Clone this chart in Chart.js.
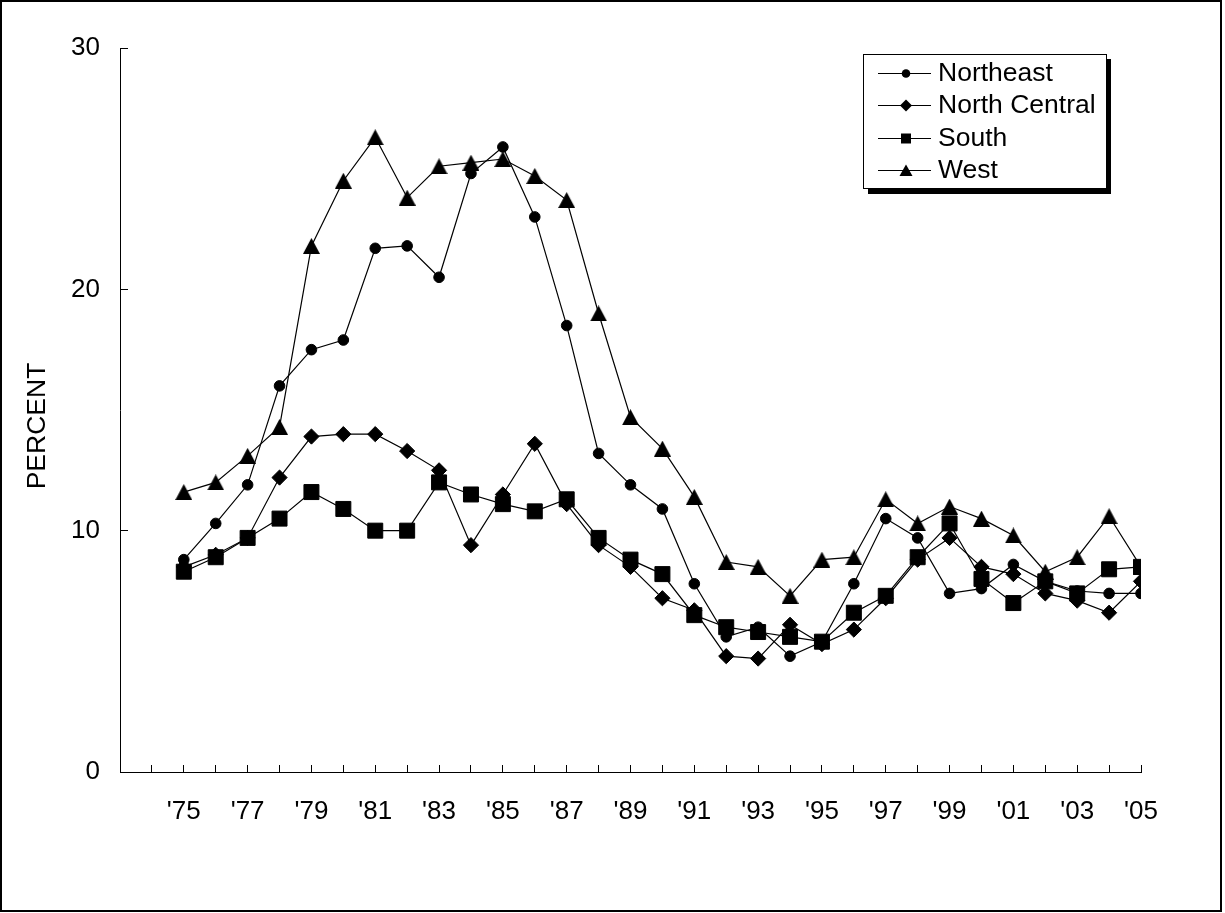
<!DOCTYPE html>
<html>
<head>
<meta charset="utf-8">
<script src="https://cdn.jsdelivr.net/npm/chart.js@4.4.1/dist/chart.umd.min.js"></script>
<style>
html,body{margin:0;padding:0;background:#fff;}
#wrap{width:1225px;height:913px;position:relative;}
canvas{display:block;}
</style>
</head>
<body>
<div id="wrap"><canvas id="c" width="1225" height="913"></canvas></div>
<script>
// ---- data ----
const years = [1975,1976,1977,1978,1979,1980,1981,1982,1983,1984,1985,1986,1987,1988,1989,1990,
               1991,1992,1993,1994,1995,1996,1997,1998,1999,2000,2001,2002,2003,2004,2005];
const northeast    = [8.8,10.3,11.9,16.0,17.5,17.9,21.7,21.8,20.5,24.8,25.9,23.0,18.5,13.2,11.9,10.9,
                      7.8,5.6,6.0,4.8,5.4,7.8,10.5,9.7,7.4,7.6,8.6,7.9,7.5,7.4,7.4];
const northCentral = [8.5,9.0,9.7,12.2,13.9,14.0,14.0,13.3,12.5,9.4,11.5,13.6,11.1,9.4,8.5,7.2,
                      6.7,4.8,4.7,6.1,5.3,5.9,7.2,8.8,9.7,8.5,8.2,7.4,7.1,6.6,7.9];
const south        = [8.3,8.9,9.7,10.5,11.6,10.9,10.0,10.0,12.0,11.5,11.1,10.8,11.3,9.7,8.8,8.2,
                      6.5,6.0,5.8,5.6,5.4,6.6,7.3,8.9,10.3,8.0,7.0,7.9,7.4,8.4,8.5];
const west         = [11.6,12.0,13.1,14.3,21.8,24.5,26.3,23.8,25.1,25.25,25.4,24.7,23.7,19.0,14.7,13.4,
                      11.4,8.7,8.5,7.3,8.8,8.9,11.3,10.3,11.0,10.5,9.8,8.3,8.9,10.6,8.5];
const seriesNames = ['Northeast','North Central','South','West'];
const xLabelYears = [1975,1977,1979,1981,1983,1985,1987,1989,1991,1993,1995,1997,1999,2001,2003,2005];
const yTickValues = [0,10,20,30];
const yTitle = 'PERCENT';

const FONT = '"Liberation Sans", Arial, sans-serif';

// triangle marker as a small canvas (Excel-like, width ~ height)
function makeTriangle(w, h) {
  const c = document.createElement('canvas');
  c.width = w; c.height = h;
  const g = c.getContext('2d');
  g.fillStyle = '#000';
  g.beginPath();
  g.moveTo(w / 2, 0);
  g.lineTo(w, h);
  g.lineTo(0, h);
  g.closePath();
  g.fill();
  return c;
}
const triMarker = makeTriangle(17, 16);

function pts(vals) { return vals.map((v, i) => ({x: years[i], y: v})); }

function ds(label, vals, style, radius, order) {
  return {
    label: label,
    data: pts(vals),
    borderColor: '#000',
    borderWidth: 1.2,
    backgroundColor: '#000',
    pointStyle: style,
    pointRadius: radius,
    pointBackgroundColor: '#000',
    pointBorderColor: '#000',
    pointBorderWidth: 1,
    tension: 0,
    fill: false,
    order: order
  };
}

const outerBorder = {
  id: 'outerBorder',
  afterDraw(chart) {
    const ctx = chart.ctx;
    ctx.save();
    ctx.strokeStyle = '#000';
    ctx.lineWidth = 2;
    ctx.strokeRect(1, 1, 1220, 910);
    // y title
    ctx.translate(38, 426);
    ctx.rotate(-Math.PI / 2);
    ctx.fillStyle = '#000';
    ctx.font = '26.5px ' + FONT;
    ctx.textAlign = 'center';
    ctx.textBaseline = 'middle';
    ctx.fillText(yTitle, 0, 0);
    ctx.restore();
  }
};

const boxLegend = {
  id: 'boxLegend',
  afterDraw(chart) {
    const ctx = chart.ctx;
    ctx.save();
    ctx.fillStyle = '#000';
    ctx.fillRect(868, 59, 243, 135);
    ctx.fillStyle = '#fff';
    ctx.fillRect(863, 54, 243, 134);
    ctx.strokeStyle = '#000';
    ctx.lineWidth = 1;
    ctx.strokeRect(863.5, 54.5, 243, 134);
    const rowsY = [73, 105, 138, 170];
    const styles = ['circle', 'diamond', 'square', 'triangle'];
    ctx.font = '26.5px ' + FONT;
    ctx.textBaseline = 'middle';
    ctx.textAlign = 'left';
    for (let i = 0; i < seriesNames.length; i++) {
      const y = rowsY[i];
      ctx.strokeStyle = '#000';
      ctx.lineWidth = 1;
      ctx.beginPath();
      ctx.moveTo(878, y + 0.5);
      ctx.lineTo(931, y + 0.5);
      ctx.stroke();
      const mx = 906;
      ctx.fillStyle = '#000';
      ctx.beginPath();
      if (styles[i] === 'circle') {
        ctx.arc(mx, y + 0.5, 4.3, 0, Math.PI * 2);
      } else if (styles[i] === 'diamond') {
        ctx.moveTo(mx, y - 5.5); ctx.lineTo(mx + 6, y + 0.5); ctx.lineTo(mx, y + 6.5); ctx.lineTo(mx - 6, y + 0.5);
      } else if (styles[i] === 'square') {
        ctx.rect(mx - 5, y - 4.5, 10, 10);
      } else {
        ctx.moveTo(mx, y - 5.5); ctx.lineTo(mx + 6.5, y + 6); ctx.lineTo(mx - 6.5, y + 6);
      }
      ctx.closePath();
      ctx.fill();
      ctx.fillStyle = '#000';
      ctx.fillText(seriesNames[i], 938, y + 1);
    }
    ctx.restore();
  }
};

new Chart(document.getElementById('c'), {
  type: 'line',
  data: {
    datasets: [
      ds(seriesNames[0], northeast, 'circle', 5.3, 2),
      ds(seriesNames[1], northCentral, 'rectRot', 7.6, 1),
      ds(seriesNames[2], south, 'rect', 10.6, 0),
      ds(seriesNames[3], west, triMarker, 9, 3)
    ]
  },
  options: {
    responsive: false,
    animation: false,
    devicePixelRatio: 1,
    events: [],
    layout: { padding: { left: 0, top: 48, right: 84, bottom: 0 } },
    plugins: { legend: { display: false }, tooltip: { enabled: false } },
    scales: {
      x: {
        type: 'linear',
        min: 1973,
        max: 2005,
        afterFit(scale) { scale.height = 141; },
        border: { display: true, color: '#000', width: 1 },
        grid: { drawOnChartArea: false, drawTicks: true, tickLength: -7, color: '#000', lineWidth: 1 },
        ticks: {
          stepSize: 1,
          autoSkip: false,
          maxTicksLimit: 100,
          maxRotation: 0,
          minRotation: 0,
          padding: 31,
          color: '#000',
          font: { family: FONT, size: 26 },
          callback: (v) => xLabelYears.includes(v) ? "'" + String(v).slice(2) : ''
        }
      },
      y: {
        min: yTickValues[0],
        max: yTickValues[yTickValues.length - 1],
        afterFit(scale) { scale.width = 120; },
        afterBuildTicks(scale) { scale.ticks = yTickValues.map(v => ({value: v})); },
        border: { display: true, color: '#000', width: 1 },
        grid: { drawOnChartArea: false, drawTicks: true, tickLength: -8, color: '#000', lineWidth: 1 },
        ticks: {
          padding: 28,
          color: '#000',
          font: { family: FONT, size: 26 }
        }
      }
    }
  },
  plugins: [outerBorder, boxLegend]
});
</script>
</body>
</html>
